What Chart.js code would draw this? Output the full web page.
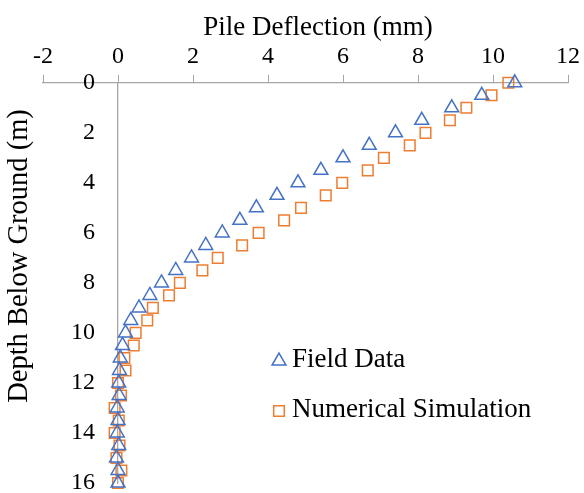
<!DOCTYPE html>
<html>
<head>
<meta charset="utf-8">
<script src="https://cdn.jsdelivr.net/npm/chart.js@4/dist/chart.umd.min.js"></script>
<style>
  body { margin: 0; background: #fff; }
  #wrap { width: 584px; height: 493px; }
</style>
</head>
<body>
<div id="wrap"><canvas id="pileChart"></canvas></div>
<script>
// depth below ground (m), one reading every 0.5 m
const depth = [0, 0.5, 1, 1.5, 2, 2.5, 3, 3.5, 4, 4.5, 5, 5.5, 6, 6.5, 7, 7.5, 8,
               8.5, 9, 9.5, 10, 10.5, 11, 11.5, 12, 12.5, 13, 13.5, 14, 14.5, 15, 15.5, 16];
// pile deflection (mm)
const fieldData = [10.58, 9.70, 8.90, 8.10, 7.40, 6.70, 6.00, 5.41, 4.80, 4.24, 3.69, 3.25, 2.78,
                   2.34, 1.96, 1.54, 1.16, 0.85, 0.56, 0.34, 0.20, 0.12, 0.06, 0.04, 0.02,
                   0.03, -0.02, 0.00, -0.02, 0.02, -0.04, 0.00, 0.00];
const numericalSim = [10.41, 9.96, 9.29, 8.85, 8.20, 7.78, 7.09, 6.66, 5.98, 5.54, 4.88, 4.43, 3.75,
                      3.31, 2.66, 2.25, 1.65, 1.36, 0.93, 0.78, 0.47, 0.42, 0.17, 0.20, 0.00,
                      0.08, -0.09, 0.02, -0.09, 0.04, -0.04, 0.09, 0.00];
const xTicks = [-2, 0, 2, 4, 6, 8, 10, 12];
const yTicks = [0, 2, 4, 6, 8, 10, 12, 14, 16];

const blue = '#4472C4';
const orange = '#ED7D31';
const axisGrey = '#A6A6A6';
const serif = '"Liberation Serif", "Times New Roman", serif';

Chart.defaults.font.family = serif;
Chart.defaults.font.size = 24;
Chart.defaults.color = '#000';

function toPoints(xs) {
  return xs.map((v, i) => ({ x: v, y: depth[i] }));
}

function marker(ctx, style, x, y, r) {
  ctx.beginPath();
  if (style === 'triangle') {
    const w = r * Math.sin(Math.PI / 3);
    ctx.moveTo(x, y - r);
    ctx.lineTo(x + w, y + r / 2);
    ctx.lineTo(x - w, y + r / 2);
    ctx.closePath();
  } else {
    const s = r * Math.SQRT1_2;
    ctx.rect(x - s, y - s, 2 * s, 2 * s);
  }
  ctx.stroke();
}

// y tick labels sit left of the axis line at x = 0; titles and legend where Excel put them
const extras = {
  id: 'extras',
  afterDraw(chart) {
    const ctx = chart.ctx;
    const xs = chart.scales.x;
    const ys = chart.scales.y;
    ctx.save();
    ctx.fillStyle = '#000';

    ctx.font = '24px ' + serif;
    ctx.textAlign = 'right';
    ctx.textBaseline = 'middle';
    const labelRight = xs.getPixelForValue(0) - 23;
    yTicks.forEach(v => ctx.fillText(String(v), labelRight, ys.getPixelForValue(v)));

    ctx.font = '27px ' + serif;
    ctx.textAlign = 'center';
    ctx.textBaseline = 'alphabetic';
    ctx.fillText('Pile Deflection (mm)', 318, 35);
    ctx.save();
    ctx.font = '28.5px ' + serif;
    ctx.translate(27, 256);
    ctx.rotate(-Math.PI / 2);
    ctx.fillText('Depth Below Ground (m)', 0, 0);
    ctx.restore();

    ctx.font = '27px ' + serif;
    ctx.textAlign = 'left';
    ctx.lineWidth = 1.5;
    chart.data.datasets.forEach((ds, i) => {
      const y = 361 + i * 50;
      ctx.strokeStyle = ds.borderColor;
      marker(ctx, ds.pointStyle, 279, y, ds.pointStyle === 'triangle' ? 8 : 7.5);
      ctx.fillText(ds.label, 292, 367 + i * 50);
    });
    ctx.restore();
  }
};

new Chart(document.getElementById('pileChart'), {
  type: 'scatter',
  data: {
    datasets: [{
      label: 'Field Data',
      data: toPoints(fieldData),
      pointStyle: 'triangle',
      pointRadius: 8,
      pointHoverRadius: 8,
      borderColor: blue,
      backgroundColor: 'rgba(0,0,0,0)',
      borderWidth: 1.5,
      clip: false
    }, {
      label: 'Numerical Simulation',
      data: toPoints(numericalSim),
      pointStyle: 'rect',
      pointRadius: 7.5,
      pointHoverRadius: 7.5,
      borderColor: orange,
      backgroundColor: 'rgba(0,0,0,0)',
      borderWidth: 1.5,
      clip: false
    }]
  },
  options: {
    responsive: true,
    maintainAspectRatio: false,
    animation: false,
    layout: { padding: { top: 38, left: 43, right: 16, bottom: 10 } },
    plugins: {
      legend: { display: false },
      tooltip: { enabled: false }
    },
    scales: {
      x: {
        type: 'linear',
        position: 'top',
        min: -2,
        max: 12,
        afterBuildTicks: scale => { scale.ticks = xTicks.map(v => ({ value: v })); },
        ticks: { padding: 4, maxRotation: 0, autoSkip: false },
        grid: { drawOnChartArea: false, tickLength: 8, color: axisGrey, lineWidth: 1 },
        border: { color: axisGrey, width: 1.3 }
      },
      y: {
        type: 'linear',
        position: { x: 0 },
        reverse: true,
        min: 0,
        max: 16,
        afterBuildTicks: scale => { scale.ticks = yTicks.map(v => ({ value: v })); },
        afterFit: scale => { scale.width = 0; scale.paddingTop = 0; scale.paddingBottom = 0; },
        ticks: { display: false },
        grid: { drawOnChartArea: false, drawTicks: false, color: axisGrey },
        border: { color: axisGrey, width: 1.3 }
      }
    }
  },
  plugins: [extras]
});
</script>
</body>
</html>
